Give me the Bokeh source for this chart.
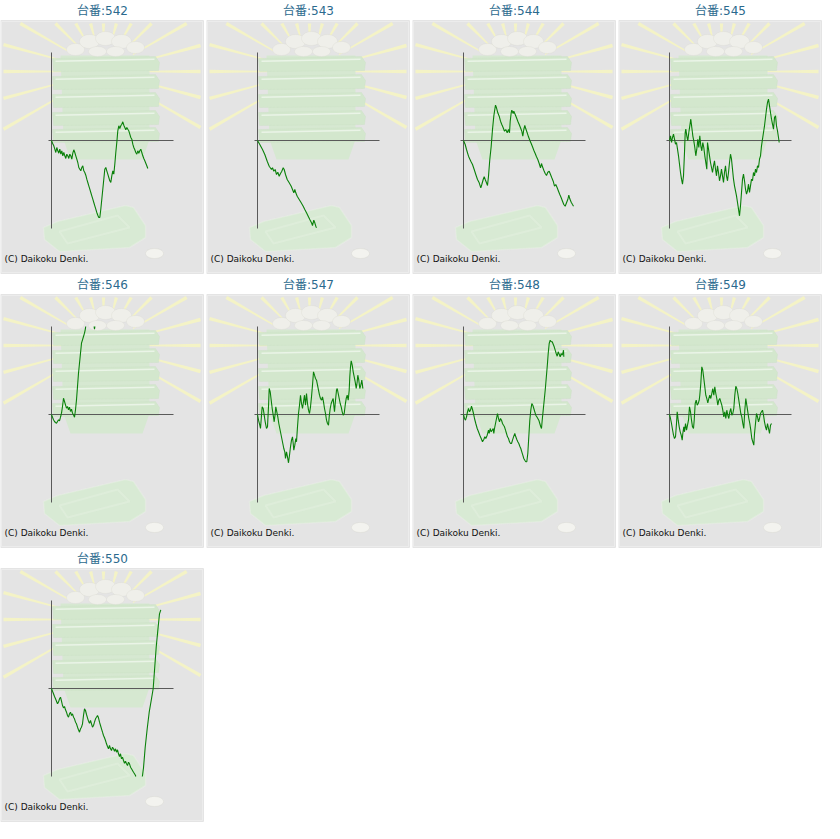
import math
import numpy as np
from bokeh.plotting import figure
from bokeh.layouts import gridplot
from bokeh.models import Range1d, Label, BoxAnnotation, PolyAnnotation
from bokeh.embed import file_html
from bokeh.resources import INLINE

# ---------------- data (games played vs. coin difference) ----------------
machines = ["542", "543", "544", "545", "546", "547", "548", "549", "550"]

games_542 = [0, 100, 230, 330, 430, 530, 630, 730, 830, 930, 1030, 1130, 1230, 1330, 1430, 1530, 1630, 1730, 1830, 1930,
             2030, 2130, 2230, 2330, 2430, 2530, 2630, 2730, 2830, 2930, 3030, 3130, 3230, 3330, 3430, 3530, 3630, 3730,
             3830, 3930, 4030, 4130, 4230, 4330, 4430, 4530, 4630, 4730, 4830, 4930, 5030, 5130, 5230, 5330, 5430, 5530,
             5630, 5730, 5830, 5930, 6030, 6130, 6230, 6330, 6430, 6530, 6630, 6730, 6830, 6930, 7030, 7130, 7230, 7330,
             7430, 7530, 7630, 7730, 7830, 7930, 8030, 8130, 8230, 8330, 8430, 8530, 8630, 8730, 8830, 8930, 9030, 9130,
             9230, 9330, 9430, 9530, 9630]
coins_542 = [0, -270, -530, -870, -1200, -700, -1030, -1270, -870, -1370, -1030, -1530, -1200, -1530, -1800, -1370, -1530,
             -1800, -1370, -1530, -1870, -1270, -930, -1200, -1530, -1870, -2200, -2700, -2870, -3030, -2700, -2530, -3030,
             -3200, -3470, -3870, -4200, -4530, -4870, -5200, -5530, -5870, -6200, -6530, -6870, -7200, -7470, -7700,
             -7700, -6870, -5870, -4870, -3870, -2870, -2700, -3030, -3370, -3700, -4030, -4200, -3530, -3030, -3370,
             -2370, -1200, -200, 970, 1470, 1200, 1470, 1630, 1870, 1530, 1300, 1070, 1300, 1130, 970, 630, 300, 130,
             -370, -700, -930, -1200, -1370, -1030, -1270, -1030, -870, -1200, -1530, -1800, -2030, -2270, -2530, -2800]

games_543 = [0, 230, 500, 730, 970, 1170, 1400, 1500, 1630, 1770, 1900, 2030, 2170, 2300, 2430, 2570, 2670, 2800, 2970,
             3170, 3370, 3500, 3630, 3730, 3830, 3970, 4170, 4370, 4570, 4730, 4900, 5070, 5230, 5400, 5500, 5630, 5730,
             5830, 5900]
coins_543 = [0, -400, -900, -1400, -2070, -2570, -2900, -2730, -3070, -2900, -3400, -3170, -3570, -3300, -3070, -2730,
             -2900, -3400, -3900, -4230, -4570, -4900, -5230, -4900, -5230, -5570, -5900, -6230, -6570, -6900, -7230,
             -7570, -7900, -8230, -8500, -7970, -8230, -8570, -8730]

games_544 = [0, 170, 300, 500, 730, 900, 1070, 1230, 1400, 1570, 1730, 1830, 1970, 2070, 2170, 2300, 2400, 2500, 2630,
             2770, 2900, 3030, 3130, 3200, 3300, 3430, 3570, 3700, 3830, 3970, 4100, 4230, 4370, 4500, 4600, 4670, 4770,
             4830, 4970, 5030, 5170, 5300, 5430, 5570, 5700, 5830, 5930, 6030, 6130, 6230, 6370, 6500, 6630, 6770, 6900,
             7030, 7170, 7300, 7430, 7570, 7700, 7800, 7900, 8030, 8170, 8300, 8430, 8570, 8700, 8830, 8970, 9100, 9230,
             9370, 9500, 9630, 9770, 9900, 10030, 10170, 10300, 10430, 10530, 10630, 10770, 10900, 11000]
coins_544 = [0, -400, -900, -1570, -2070, -2400, -2900, -3400, -3900, -4230, -4730, -4400, -3900, -3630, -3900, -4230,
             -4500, -3570, -1900, -570, 1100, 2430, 3100, 3530, 3270, 2770, 2430, 1930, 1600, 1270, 930, 1100, 770, 1100,
             770, 1930, 2770, 3030, 2700, 2930, 2600, 2270, 1930, 1600, 1270, 930, 430, 1100, 1500, 1170, 770, 370, 30,
             -300, -630, -970, -1300, -1630, -1900, -2300, -2730, -2300, -2630, -2970, -3300, -3500, -3170, -3070, -3400,
             -3730, -4070, -4570, -4400, -4730, -5070, -5400, -5730, -6070, -6400, -6570, -6230, -5900, -5470, -5830,
             -6170, -6400, -6570]

games_545 = [0, 100, 200, 300, 400, 500, 600, 700, 800, 900, 1000, 1100, 1200, 1300, 1400, 1500, 1570, 1630, 1730, 1830,
             1930, 2030, 2130, 2230, 2330, 2430, 2530, 2630, 2730, 2830, 2930, 3030, 3130, 3230, 3330, 3430, 3530, 3630,
             3730, 3800, 3900, 4000, 4100, 4200, 4300, 4400, 4500, 4600, 4700, 4800, 4900, 5000, 5100, 5200, 5300, 5400,
             5500, 5600, 5700, 5800, 5900, 6000, 6100, 6200, 6300, 6400, 6500, 6600, 6700, 6800, 6900, 7000, 7100, 7200,
             7300, 7400, 7500, 7600, 7700, 7800, 7900, 8000, 8100, 8200, 8300, 8400, 8500, 8600, 8700, 8800, 8900, 9000,
             9100, 9200, 9300, 9400, 9500, 9600, 9700, 9800, 9900, 10000, 10100, 10200, 10300, 10400, 10500, 10600,
             10700, 10800, 10900, 10970]
coins_545 = [0, 470, -200, 300, 630, 130, -370, -200, -870, -1530, -2370, -3200, -3870, -4370, -3530, -1200, 800, 1130,
             470, -30, 800, 1470, 2130, 1300, 470, -30, -700, -1530, -870, 130, -700, 470, -530, -1030, -200, -700,
             -1530, -2200, -2870, -200, -870, -1530, -2200, -2700, -3200, -2530, -2030, -2870, -3530, -2530, -3200,
             -4030, -3530, -2870, -3530, -4200, -3200, -2530, -3530, -4030, -3200, -2200, -1370, -1870, -2870, -3870,
             -4530, -5030, -5530, -6200, -6870, -7530, -6530, -5200, -3870, -3370, -4030, -4870, -5370, -5030, -4370,
             -5200, -4530, -3870, -4030, -3200, -3530, -2870, -3200, -2530, -2700, -1870, -1530, -530, 130, 800, 1470,
             2300, 3130, 3800, 4130, 3470, 2800, 2130, 1630, 1130, 2300, 2470, 1470, 970, 300, -200]

games_546 = [0, 100, 200, 300, 400, 500, 600, 700, 800, 900, 1000, 1100, 1200, 1300, 1400, 1500, 1600, 1700, 1800, 1900,
             2000, 2100, 2200, 2300, 2400, 2500, 2600, 2700, 2800, 2900, 3000, 3100, 3200, 3300, 3370, 3430, 3500, 3730,
             3970, 4170, 4300, 4430, 4500]
coins_546 = [0, -270, -530, -700, -800, -870, -700, -530, -630, -270, 130, 800, 1630, 1300, 970, 630, 800, 470, 730, 300,
             530, 130, -30, -270, 470, 1470, 2800, 4130, 5130, 6130, 7130, 7470, 7800, 8130, 8470, 8870, 9470, 10800,
             10470, 9470, 8530, 9500, 10000]

games_547 = [0, 100, 230, 300, 400, 470, 570, 670, 770, 900, 1000, 1100, 1170, 1270, 1370, 1470, 1570, 1670, 1770, 1830,
             1930, 2030, 2130, 2230, 2330, 2430, 2530, 2630, 2730, 2800, 2900, 3000, 3100, 3200, 3300, 3400, 3500, 3570,
             3630, 3730, 3830, 3900, 4000, 4100, 4200, 4300, 4400, 4500, 4600, 4700, 4800, 4900, 5000, 5100, 5200, 5300,
             5400, 5500, 5600, 5700, 5800, 5900, 6000, 6100, 6200, 6300, 6400, 6500, 6600, 6700, 6800, 6900, 7000, 7100,
             7170, 7270, 7370, 7470, 7570, 7630, 7700, 7800, 7900, 7970, 8070, 8170, 8270, 8370, 8470, 8570, 8670, 8770,
             8870, 8970, 9070, 9170, 9230, 9300, 9370, 9470, 9570, 9670, 9770, 9870, 9970, 10030, 10130, 10230, 10330,
             10430, 10500, 10530]
coins_547 = [0, -570, -1070, -1400, -70, 770, 600, -70, -730, -1400, -1230, 770, 2600, 2270, 1430, 600, -70, -730, 100,
             770, 270, -230, -900, -1400, -1900, -2400, -2900, -3400, -3730, -4400, -3730, -4230, -4830, -4070, -3230,
             -2570, -2230, -2900, -3570, -3070, -2400, -2730, -1230, 100, 930, 1930, 1100, 600, 1270, 1930, 930, 2100,
             1100, 430, 100, 770, 1770, 2930, 4270, 3930, 3600, 3430, 2930, 2430, 1930, 1600, 1430, 1770, 1270, 600, 100,
             -570, -900, -1070, -230, 600, 1100, 1370, 1600, 930, 270, 1430, 2430, 2600, 2100, 1600, 1100, 770, 270, -70,
             100, 930, 1600, 1930, 1430, 2430, 3770, 4770, 5370, 4930, 4270, 3770, 3270, 2600, 3270, 3930, 3430, 2600,
             2930, 3430, 2930, 2600]

games_548 = [0, 100, 200, 300, 400, 500, 600, 700, 800, 900, 1000, 1100, 1230, 1370, 1500, 1630, 1770, 1900, 2030, 2130,
             2230, 2370, 2500, 2570, 2670, 2770, 2870, 2970, 3030, 3100, 3200, 3300, 3400, 3500, 3600, 3700, 3800, 3900,
             4000, 4100, 4200, 4300, 4400, 4500, 4600, 4700, 4800, 4900, 5030, 5130, 5230, 5330, 5430, 5530, 5630, 5730,
             5830, 5930, 6030, 6130, 6230, 6330, 6430, 6530, 6630, 6730, 6830, 6930, 7030, 7130, 7230, 7330, 7430, 7530,
             7630, 7730, 7800, 7870, 7970, 8070, 8170, 8270, 8370, 8470, 8570, 8670, 8770, 8870, 8970, 9070, 9170, 9270,
             9370, 9470, 9570, 9670, 9770, 9870, 9970, 10000, 10030]
coins_548 = [0, -400, -570, -230, 270, 600, 270, 430, 830, 500, 100, -400, -900, -1400, -1730, -2070, -2400, -2730,
             -2500, -2230, -2400, -2070, -1570, -1900, -1400, -1730, -1570, -1400, -1900, -1400, -900, -400, 100, -400,
             -730, -400, -570, -900, -1070, -1230, -1570, -1900, -2230, -2400, -2730, -2900, -2900, -2570, -2170, -1900,
             -2230, -2500, -2730, -2900, -3170, -3400, -3730, -4070, -4400, -4570, -4730, -4730, -3900, -2230, -570, 430,
             1100, 930, 600, 270, -70, -230, -400, -570, -900, -1230, -1400, -570, 430, 1430, 2430, 3600, 4770, 6100,
             7100, 7430, 7270, 7270, 7030, 6770, 6430, 6100, 5830, 6270, 6030, 5770, 6100, 5930, 6270, 6430, 5770]

games_549 = [0, 100, 200, 300, 400, 500, 600, 700, 770, 870, 970, 1070, 1170, 1270, 1330, 1430, 1500, 1600, 1700, 1800,
             1900, 2000, 2100, 2200, 2300, 2400, 2470, 2570, 2670, 2770, 2870, 2970, 3030, 3130, 3230, 3330, 3430, 3530,
             3630, 3730, 3830, 3930, 4030, 4130, 4230, 4330, 4430, 4530, 4630, 4730, 4830, 4930, 5030, 5130, 5230, 5330,
             5430, 5530, 5630, 5730, 5830, 5930, 6030, 6130, 6230, 6330, 6430, 6530, 6630, 6730, 6830, 6930, 7030, 7130,
             7230, 7330, 7430, 7530, 7630, 7730, 7830, 7930, 8030, 8130, 8230, 8330, 8430, 8500, 8600, 8700, 8800, 8900,
             9000, 9100, 9200, 9300, 9400, 9500, 9600, 9700, 9800, 9900, 10000, 10100, 10200]
coins_549 = [0, -400, -900, -1500, -2070, -2400, -2230, -900, 270, -570, -1230, -1730, -2070, -2570, -1900, -1230,
             -1730, -900, -1570, -1070, -570, 770, 270, -570, -1230, -1400, -570, 1100, 1430, 930, 1100, 1430, 1930,
             3100, 4770, 4430, 3600, 2770, 1930, 1600, 1170, 1600, 1930, 1600, 2100, 2600, 1930, 2770, 2100, 1600, 930,
             1430, 1600, 1270, 930, 430, -230, 270, -400, 430, -70, -400, 270, 600, -70, 100, 600, 1930, 2830, 2600,
             2100, 1430, 770, 100, -230, -900, -1400, 430, 1600, 930, 270, -400, -900, -1570, -2400, -2730, -3070,
             -1900, -900, 100, -230, -730, -400, 100, 270, 430, -70, -730, -1230, -1570, -900, -1400, -1900, -1070, -900]

games_550 = [0, 100, 200, 300, 400, 500, 600, 700, 800, 900, 1000, 1100, 1200, 1300, 1400, 1500, 1600, 1700, 1800, 1900,
             2000, 2100, 2200, 2300, 2400, 2500, 2600, 2700, 2800, 2900, 3000, 3100, 3200, 3300, 3400, 3500, 3600, 3700,
             3800, 3900, 4000, 4100, 4200, 4300, 4400, 4500, 4600, 4700, 4800, 4900, 5000, 5100, 5200, 5300, 5400, 5500,
             5600, 5700, 5800, 5900, 6000, 6100, 6200, 6300, 6400, 6500, 6600, 6700, 6800, 6900, 7000, 7100, 7200, 7300,
             7400, 7500, 7600, 7700, 7800, 7900, 8000, 8100, 8200, 8300, 8400, 8570, 8830, 9000, 9100, 9200, 9370, 9570,
             9770, 9970, 10170, 10300, 10470, 10630, 10800, 10930]
coins_550 = [0, -270, -530, -800, -1030, -1270, -1530, -1370, -1030, -870, -1270, -1700, -1930, -1800, -2130, -2370,
             -2700, -2870, -2530, -2370, -2700, -2530, -2870, -3030, -3370, -3530, -3870, -4130, -4370, -4030, -3870,
             -3530, -2700, -2030, -2200, -2600, -2930, -3270, -3470, -3200, -3530, -3870, -3700, -3370, -3030, -2870,
             -2700, -2930, -3370, -3700, -4030, -4370, -4700, -4930, -5200, -5530, -5800, -6030, -5700, -6030, -6200,
             -5870, -6030, -6270, -6030, -6370, -6130, -6530, -6800, -6530, -7030, -6870, -7200, -7470, -7270, -7530,
             -7700, -7370, -7530, -7870, -8030, -8200, -8370, -8530, -8700, -9370, -9870, -9200, -8700, -7930, -5870,
             -4030, -2370, -1200, 0, 1800, 4130, 5800, 7470, 7870]

series = {
    "542": (games_542, coins_542), "543": (games_543, coins_543), "544": (games_544, coins_544),
    "545": (games_545, coins_545), "546": (games_546, coins_546), "547": (games_547, coins_547),
    "548": (games_548, coins_548), "549": (games_549, coins_549), "550": (games_550, coins_550),
}

title_prefix = "台番:"
copyright_text = "(C) Daikoku Denki."

# chart window (in data units) = extents of the two axis lines
GAMES_AXIS = (-300, 12200)
COINS_AXIS = (-8800, 8800)

# ---------------- styling / layout ----------------
CELL_W, CELL_H = 206, 274
PX_G, PX_C = 100, 100          # data units per pixel
CHART_L, CHART_T = 48, 52      # chart window position inside a cell (px)

PANEL_BG = "#e4e4e4"
RAY = "#f4f3c6"
TRAY = "#d6e8d1"
TRAY_SLAB = "#d3e7cd"
TRAY_EDGE = "#c6dfc0"
TRAY_HI = "#eaf4e7"
MOUND = "#efefea"


def S(rx, ry):
    # reference cell pixel -> screen units relative to the plot frame (origin bottom-left)
    return rx - 3, CELL_H + 1 - ry


def poly(p, pts, fill, line=None, lw=1.0, alpha=1.0):
    xs = [S(x, y)[0] for x, y in pts]
    ys = [S(x, y)[1] for x, y in pts]
    p.add_layout(PolyAnnotation(xs=xs, ys=ys, xs_units="screen", ys_units="screen",
                                fill_color=fill, fill_alpha=alpha if fill else 0,
                                line_color=line, line_width=lw, level="underlay"))


def ellipse_pts(cx, cy, rx, ry, n=28):
    t = np.linspace(0, 2 * np.pi, n, endpoint=False)
    return list(zip(cx + rx * np.cos(t), cy + ry * np.sin(t)))


def ray_pts(cx, cy, ang_deg, r1, w1, w2, box):
    a = math.radians(ang_deg)
    dx, dy = math.cos(a), -math.sin(a)
    x0, x1, y0, y1 = box
    ts = []
    if dx > 1e-9:
        ts.append((x1 - cx) / dx)
    if dx < -1e-9:
        ts.append((x0 - cx) / dx)
    if dy > 1e-9:
        ts.append((y1 - cy) / dy)
    if dy < -1e-9:
        ts.append((y0 - cy) / dy)
    r2 = min(ts)
    nx, ny = -dy, dx
    return [(cx + dx * r1 + nx * w1, cy + dy * r1 + ny * w1),
            (cx + dx * r2 + nx * w2, cy + dy * r2 + ny * w2),
            (cx + dx * r2 - nx * w2, cy + dy * r2 - ny * w2),
            (cx + dx * r1 - nx * w1, cy + dy * r1 - ny * w1)]


def box(p, x0, y0, x1, y1, fill, line, alpha=1.0):
    l, b = S(x0, y1)
    r, t = S(x1, y0)
    p.add_layout(BoxAnnotation(left=l, right=r, bottom=b, top=t, left_units="screen", right_units="screen",
                               bottom_units="screen", top_units="screen", fill_color=fill,
                               fill_alpha=alpha if fill else 0, line_color=line, line_width=1, level="underlay"))


def decorate(p):
    box(p, 3, 21, 206, 274, PANEL_BG, "#c8c8c8")
    box(p, 4, 22, 205, 273, None, "white")
    for ang in range(-30, 211, 15):
        poly(p, ray_pts(106, 72, ang, 34, 0.5, 1.7, (6, 203, 24, 271)), RAY)
    poly(p, [(63, 56), (152, 56), (152, 140), (145, 160), (73, 160), (66, 140)], TRAY)
    for yt in [57, 75, 93, 111, 128]:
        poly(p, [(55, yt + 2), (158, yt), (162, yt + 6), (161, yt + 14), (56, yt + 15)], TRAY_SLAB,
             line=TRAY_EDGE, lw=1)
        poly(p, [(58, yt + 4), (157, yt + 2), (157, yt + 3.5), (58, yt + 5.5)], TRAY_HI)
    for cx, cy, rx, ry in [(78, 50, 9, 6), (92, 42, 10, 7), (108, 39, 10, 7), (124, 42, 10, 7),
                           (138, 48, 9, 6), (100, 52, 9, 5), (118, 52, 9, 5)]:
        poly(p, ellipse_pts(cx, cy, rx, ry), MOUND, line="#d8d8cc", lw=1)
    poly(p, [(46, 228), (60, 222), (128, 206), (136, 208), (148, 226), (148, 238), (132, 248), (62, 252), (47, 240)],
         "#d8ead4", line="#eef6ec", lw=1.5)
    poly(p, [(62, 232), (120, 216), (132, 228), (70, 244)], None, line="#eaf4e7", lw=2)
    poly(p, ellipse_pts(157, 254, 9, 5), "#f3f3ef", line="#cfcfc6", lw=1)


def clip_polyline(xs, ys, x0, x1, y0, y1):
    """Split a polyline into the pieces that lie inside the chart window."""
    out_x, out_y, cx, cy = [], [], [], []

    def flush():
        if len(cx) >= 2:
            out_x.append(list(cx))
            out_y.append(list(cy))
        cx.clear()
        cy.clear()

    for i in range(len(xs) - 1):
        ax, ay, bx, by = xs[i], ys[i], xs[i + 1], ys[i + 1]
        dx, dy = bx - ax, by - ay
        t0, t1, ok = 0.0, 1.0, True
        for pp, qq in ((-dx, ax - x0), (dx, x1 - ax), (-dy, ay - y0), (dy, y1 - ay)):
            if pp == 0:
                if qq < 0:
                    ok = False
                    break
            else:
                r = qq / pp
                if pp < 0:
                    if r > t1:
                        ok = False
                        break
                    t0 = max(t0, r)
                else:
                    if r < t0:
                        ok = False
                        break
                    t1 = min(t1, r)
        if not ok:
            flush()
            continue
        if t0 > 0 or not cx:
            flush()
            cx.append(ax + t0 * dx)
            cy.append(ay + t0 * dy)
        cx.append(ax + t1 * dx)
        cy.append(ay + t1 * dy)
        if t1 < 1:
            flush()
    flush()
    return out_x, out_y


# full-cell data ranges so that the chart window sits at CHART_L/CHART_T
x_start = GAMES_AXIS[0] - CHART_L * PX_G
x_end = x_start + CELL_W * PX_G
y_end = COINS_AXIS[1] + CHART_T * PX_C
y_start = y_end - CELL_H * PX_C

figs = []
for m in machines:
    games, coins = series[m]
    p = figure(width=CELL_W, height=CELL_H, x_range=Range1d(x_start, x_end), y_range=Range1d(y_start, y_end),
               output_backend="svg", toolbar_location=None, x_axis_type=None, y_axis_type=None,
               min_border=0, min_border_left=0, min_border_right=0, min_border_top=0, min_border_bottom=0,
               background_fill_color="white", border_fill_color="white", outline_line_color=None)
    decorate(p)
    p.segment(x0=[GAMES_AXIS[0], 0], y0=[0, COINS_AXIS[0]], x1=[GAMES_AXIS[1], 0], y1=[0, COINS_AXIS[1]],
              line_color="#5a5a5a", line_width=1)
    segx, segy = clip_polyline(games, coins, GAMES_AXIS[0], GAMES_AXIS[1], COINS_AXIS[0], COINS_AXIS[1])
    p.multi_line(xs=segx, ys=segy, line_color="#0a800a", line_width=1.1)
    tx, ty = S(105, 11)
    p.add_layout(Label(x=tx, y=ty, x_units="screen", y_units="screen", text=title_prefix + m,
                       text_align="center", text_baseline="middle",
                       text_font="DejaVu Sans, Noto Sans CJK JP",
                       text_font_size="12px", text_color="#2b6a8e"))
    qx, qy = S(7, 259)
    p.add_layout(Label(x=qx, y=qy, x_units="screen", y_units="screen", text=copyright_text,
                       text_align="left", text_baseline="middle", text_font="DejaVu Sans",
                       text_font_size="9px", text_color="#111111"))
    figs.append(p)

grid = gridplot(figs, ncols=4, toolbar_location=None)
open("out.html", "w").write(file_html(grid, INLINE))
